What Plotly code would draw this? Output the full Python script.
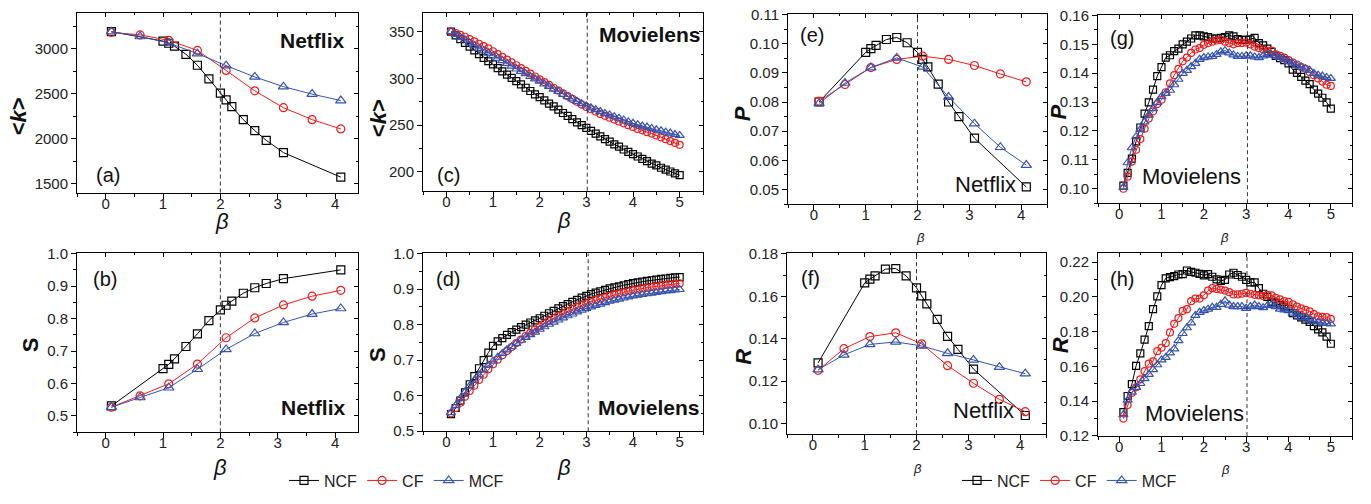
import plotly.graph_objects as go

W, H = 1371, 504

# ---------------- data ----------------
beta_nf_ncf = [0.1, 1.0, 1.1, 1.2, 1.4, 1.6, 1.8, 2.0, 2.1, 2.2, 2.4, 2.6, 2.8, 3.1, 4.1]
beta_nf = [0.1, 0.6, 1.1, 1.6, 2.1, 2.6, 3.1, 3.6, 4.1]
beta_ml = [0.1, 0.2, 0.3, 0.4, 0.5, 0.6, 0.7, 0.8, 0.9, 1.0,
           1.1, 1.2, 1.3, 1.4, 1.5, 1.6, 1.7, 1.8, 1.9, 2.0,
           2.1, 2.2, 2.3, 2.4, 2.5, 2.6, 2.7, 2.8, 2.9, 3.0,
           3.1, 3.2, 3.3, 3.4, 3.5, 3.6, 3.7, 3.8, 3.9, 4.0,
           4.1, 4.2, 4.3, 4.4, 4.5, 4.6, 4.7, 4.8, 4.9, 5.0]

# (a) Netflix <k>
k_nf_ncf = [3191, 3086, 3062, 3029, 2939, 2817, 2665, 2507, 2432, 2356, 2212, 2090, 1982, 1845, 1572]
k_nf_cf = [3183, 3155, 3094, 2982, 2759, 2532, 2345, 2212, 2108]
k_nf_mcf = [3191, 3137, 3065, 2946, 2813, 2687, 2579, 2496, 2424]

# (b) Netflix S
s_nf_ncf = [0.531, 0.646, 0.659, 0.676, 0.714, 0.753, 0.794, 0.827, 0.841, 0.854, 0.878, 0.895, 0.908, 0.923, 0.950]
s_nf_cf = [0.527, 0.562, 0.599, 0.660, 0.741, 0.802, 0.842, 0.869, 0.887]
s_nf_mcf = [0.527, 0.557, 0.587, 0.644, 0.705, 0.754, 0.788, 0.814, 0.831]

# (e) Netflix P
p_nf_ncf = [0.0800, 0.0970, 0.0983, 0.0994, 0.1014, 0.1021, 0.1003, 0.0970, 0.0946, 0.0920, 0.0861, 0.0800, 0.0750, 0.0676, 0.0509]
p_nf_cf = [0.0803, 0.0860, 0.0918, 0.0946, 0.0957, 0.0946, 0.0925, 0.0896, 0.0869]
p_nf_mcf = [0.0795, 0.0865, 0.0918, 0.0951, 0.0920, 0.0817, 0.0726, 0.0645, 0.0584]

# (f) Netflix R
r_nf_ncf = [0.1286, 0.1663, 0.1681, 0.1696, 0.1728, 0.1731, 0.1696, 0.1640, 0.1602, 0.1564, 0.1491, 0.1411, 0.1350, 0.1257, 0.1038]
r_nf_cf = [0.1251, 0.1353, 0.1410, 0.1428, 0.1376, 0.1273, 0.1190, 0.1114, 0.1056]
r_nf_mcf = [0.1254, 0.1324, 0.1373, 0.1385, 0.1366, 0.1331, 0.1300, 0.1266, 0.1235]

# (c) Movielens <k>
k_ml_ncf = [350, 346, 342, 338, 334, 330, 326, 322, 318.5, 315,
            311, 307.5, 304, 300.5, 297, 293.5, 290, 286.5, 283, 280,
            276.5, 273, 270, 266.5, 263, 260, 256.5, 253, 250, 247,
            244, 241, 238, 235, 232.5, 229.5, 227, 224, 221.5, 219,
            216.5, 214, 211.5, 209, 207, 204.5, 202.5, 200.5, 198.5, 196.5]
k_ml_cf = [350, 348.5, 346.5, 344.5, 342, 339.5, 337, 334.5, 332, 329,
           326, 323, 320, 317, 314, 311, 308, 305, 302, 299,
           296, 293, 290, 287, 284, 281, 278, 275, 272, 269.5,
           267, 264.5, 262, 260, 258, 256, 254, 252, 250, 248,
           246, 244.5, 242.5, 241, 239, 237, 235, 233, 231, 229]
k_ml_mcf = [350, 347, 344, 341, 338, 335, 332, 329.5, 327, 324,
            321.5, 319, 316, 313, 310, 307.5, 305, 302, 299.5, 297,
            294, 291.5, 288.5, 286, 283, 280.5, 278, 275.5, 273, 270.5,
            268.5, 266.5, 264.5, 262.5, 261, 259, 257.5, 255.5, 253.5, 252,
            250.5, 249, 248, 246.5, 245, 244, 242.5, 241.5, 240, 239]

# (d) Movielens S
s_ml_ncf = [0.548, 0.565, 0.586, 0.609, 0.632, 0.655, 0.677, 0.700, 0.721, 0.740,
            0.753, 0.762, 0.771, 0.779, 0.786, 0.793, 0.800, 0.806, 0.812, 0.818,
            0.825, 0.832, 0.839, 0.846, 0.852, 0.858, 0.864, 0.870, 0.876, 0.881,
            0.886, 0.890, 0.894, 0.898, 0.902, 0.905, 0.908, 0.911, 0.914, 0.917,
            0.919, 0.921, 0.923, 0.925, 0.927, 0.929, 0.930, 0.932, 0.933, 0.934]
s_ml_cf = [0.550, 0.565, 0.580, 0.597, 0.613, 0.628, 0.644, 0.659, 0.674, 0.688,
           0.701, 0.714, 0.726, 0.737, 0.748, 0.758, 0.768, 0.777, 0.786, 0.795,
           0.803, 0.811, 0.818, 0.825, 0.832, 0.838, 0.844, 0.850, 0.855, 0.860,
           0.865, 0.869, 0.873, 0.877, 0.881, 0.885, 0.888, 0.891, 0.894, 0.897,
           0.899, 0.902, 0.904, 0.906, 0.908, 0.910, 0.912, 0.913, 0.915, 0.916]
s_ml_mcf = [0.552, 0.572, 0.592, 0.610, 0.627, 0.643, 0.658, 0.672, 0.685, 0.697,
            0.708, 0.719, 0.729, 0.738, 0.747, 0.756, 0.764, 0.772, 0.779, 0.787,
            0.794, 0.801, 0.807, 0.813, 0.819, 0.825, 0.830, 0.836, 0.841, 0.846,
            0.850, 0.854, 0.858, 0.862, 0.866, 0.869, 0.872, 0.875, 0.878, 0.881,
            0.883, 0.885, 0.887, 0.889, 0.891, 0.893, 0.895, 0.896, 0.898, 0.899]

# (g) Movielens P
p_ml_ncf = [0.1011, 0.1055, 0.1104, 0.1164, 0.1212, 0.1260, 0.1299, 0.1343, 0.1390, 0.1421,
            0.1454, 0.1462, 0.1476, 0.1485, 0.1500, 0.1509, 0.1520, 0.1531, 0.1531, 0.1527,
            0.1525, 0.1520, 0.1520, 0.1522, 0.1525, 0.1531, 0.1527, 0.1518, 0.1515, 0.1515,
            0.1517, 0.1522, 0.1504, 0.1496, 0.1485, 0.1474, 0.1460, 0.1452, 0.1445, 0.1434,
            0.1412, 0.1401, 0.1387, 0.1374, 0.1362, 0.1343, 0.1329, 0.1315, 0.1299, 0.1277]
p_ml_cf = [0.1000, 0.1042, 0.1094, 0.1135, 0.1172, 0.1208, 0.1243, 0.1268, 0.1293, 0.1308,
           0.1334, 0.1365, 0.1393, 0.1415, 0.1441, 0.1454, 0.1470, 0.1482, 0.1487, 0.1498,
           0.1504, 0.1509, 0.1513, 0.1515, 0.1509, 0.1504, 0.1500, 0.1504, 0.1504, 0.1506,
           0.1500, 0.1492, 0.1487, 0.1482, 0.1476, 0.1478, 0.1465, 0.1460, 0.1454, 0.1445,
           0.1437, 0.1430, 0.1421, 0.1415, 0.1404, 0.1393, 0.1382, 0.1371, 0.1360, 0.1356]
p_ml_mcf = [0.1005, 0.1090, 0.1142, 0.1180, 0.1205, 0.1231, 0.1255, 0.1277, 0.1299, 0.1319,
            0.1330, 0.1341, 0.1360, 0.1379, 0.1399, 0.1410, 0.1423, 0.1434, 0.1448, 0.1454,
            0.1456, 0.1458, 0.1465, 0.1474, 0.1478, 0.1470, 0.1463, 0.1458, 0.1458, 0.1460,
            0.1460, 0.1456, 0.1454, 0.1460, 0.1465, 0.1462, 0.1460, 0.1454, 0.1448, 0.1441,
            0.1434, 0.1426, 0.1421, 0.1415, 0.1410, 0.1399, 0.1393, 0.1390, 0.1385, 0.1382]

# (h) Movielens R
r_ml_ncf = [0.1336, 0.1429, 0.1497, 0.1603, 0.1674, 0.1754, 0.1832, 0.1929, 0.2003, 0.2068,
            0.2107, 0.2114, 0.2120, 0.2129, 0.2131, 0.2152, 0.2144, 0.2139, 0.2133, 0.2124,
            0.2131, 0.2116, 0.2101, 0.2092, 0.2098, 0.2129, 0.2139, 0.2126, 0.2116, 0.2098,
            0.2083, 0.2083, 0.2050, 0.2018, 0.2000, 0.1971, 0.1962, 0.1953, 0.1944, 0.1930,
            0.1906, 0.1893, 0.1882, 0.1869, 0.1856, 0.1832, 0.1813, 0.1795, 0.1771, 0.1730]
r_ml_cf = [0.1299, 0.1377, 0.1447, 0.1479, 0.1525, 0.1572, 0.1615, 0.1628, 0.1687, 0.1707,
           0.1733, 0.1795, 0.1845, 0.1878, 0.1919, 0.1929, 0.1975, 0.1990, 0.1990, 0.2009,
           0.2036, 0.2050, 0.2046, 0.2042, 0.2036, 0.2027, 0.2014, 0.2014, 0.2018, 0.2023,
           0.2018, 0.2012, 0.2009, 0.2005, 0.2012, 0.2009, 0.1994, 0.1985, 0.1975, 0.1971,
           0.1957, 0.1944, 0.1934, 0.1925, 0.1916, 0.1901, 0.1888, 0.1885, 0.1883, 0.1873]
r_ml_mcf = [0.1321, 0.1405, 0.1451, 0.1479, 0.1501, 0.1529, 0.1553, 0.1581, 0.1609, 0.1637,
            0.1651, 0.1677, 0.1701, 0.1748, 0.1789, 0.1822, 0.1850, 0.1893, 0.1911, 0.1921,
            0.1929, 0.1940, 0.1940, 0.1957, 0.1977, 0.1953, 0.1944, 0.1944, 0.1944, 0.1934,
            0.1944, 0.1953, 0.1944, 0.1938, 0.1949, 0.1957, 0.1944, 0.1929, 0.1925, 0.1920,
            0.1906, 0.1897, 0.1882, 0.1879, 0.1869, 0.1860, 0.1856, 0.1850, 0.1847, 0.1845]

series_names = ["NCF", "CF", "MCF"]
colors = ["#000000", "#f01c1c", "#3553b0"]
symbols = ["square-open", "circle-open", "triangle-up-open"]

FONT = "Liberation Sans, Arial, sans-serif"


def fx(px):
    return px / W


def fy(py):
    return 1 - py / H


panels = [
    dict(i=1, xp=(77, 358), yp=(4, 190), xr=[-0.5, 4.4], yr=[1400, 3400], t0=1500, dt=500, mn=250, fmt="d",
         xs=[beta_nf_ncf, beta_nf, beta_nf], ys=[k_nf_ncf, k_nf_cf, k_nf_mcf], vx=2.0, ms=8, leg="legend"),
    dict(i=2, xp=(423, 703), yp=(4, 188), xr=[-0.5, 5.5], yr=[180, 370], t0=200, dt=50, mn=25, fmt="d",
         xs=[beta_ml] * 3, ys=[k_ml_ncf, k_ml_cf, k_ml_mcf], vx=3.02, ms=7, leg=None),
    dict(i=3, xp=(788, 1047), yp=(5, 202), xr=[-0.5, 4.5], yr=[0.045, 0.1102], t0=0.05, dt=0.01, mn=0.005, fmt=".2f",
         xs=[beta_nf_ncf, beta_nf, beta_nf], ys=[p_nf_ncf, p_nf_cf, p_nf_mcf], vx=2.0, ms=8, leg="legend2"),
    dict(i=4, xp=(1098, 1352), yp=(6, 201), xr=[-0.5, 5.5], yr=[0.095, 0.1602], t0=0.10, dt=0.01, mn=0.005, fmt=".2f",
         xs=[beta_ml] * 3, ys=[p_ml_ncf, p_ml_cf, p_ml_mcf], vx=3.03, ms=7, leg=None),
    dict(i=5, xp=(77, 358), yp=(253, 438), xr=[-0.5, 4.4], yr=[0.45, 1.0005], t0=0.5, dt=0.1, mn=0.05, fmt=".1f",
         xs=[beta_nf_ncf, beta_nf, beta_nf], ys=[s_nf_ncf, s_nf_cf, s_nf_mcf], vx=2.0, ms=8, leg=None),
    dict(i=6, xp=(423, 703), yp=(253, 437), xr=[-0.5, 5.5], yr=[0.4995, 1.0005], t0=0.5, dt=0.1, mn=0.05, fmt=".1f",
         xs=[beta_ml] * 3, ys=[s_ml_ncf, s_ml_cf, s_ml_mcf], vx=3.04, ms=7, leg=None),
    dict(i=7, xp=(787, 1046), yp=(253, 440), xr=[-0.5, 4.5], yr=[0.095, 0.1802], t0=0.10, dt=0.02, mn=0.01, fmt=".2f",
         xs=[beta_nf_ncf, beta_nf, beta_nf], ys=[r_nf_ncf, r_nf_cf, r_nf_mcf], vx=2.0, ms=8, leg=None),
    dict(i=8, xp=(1098, 1352), yp=(253, 442), xr=[-0.5, 5.5], yr=[0.1198, 0.225], t0=0.12, dt=0.02, mn=0.01, fmt=".2f",
         xs=[beta_ml] * 3, ys=[r_ml_ncf, r_ml_cf, r_ml_mcf], vx=3.02, ms=7, leg=None),
]

fig = go.Figure()
layout = dict(
    width=W, height=H, margin=dict(l=0, r=0, t=0, b=0),
    paper_bgcolor="white", plot_bgcolor="white",
    font=dict(family=FONT, size=15, color="#222"),
    showlegend=True,
)
shapes = []
NP = len(panels)
TICKFONT = dict(family=FONT, size=15, color="#222")
HIDDEN = dict(showline=False, showgrid=False, zeroline=False)

for p in panels:
    i = p["i"]
    sx = "" if i == 1 else str(i)
    xa, ya = "x" + sx, "y" + sx
    for k in range(3):
        tr = dict(
            x=p["xs"][k], y=p["ys"][k], xaxis=xa, yaxis=ya, mode="lines+markers",
            name=series_names[k],
            line=dict(color=colors[k], width=1),
            marker=dict(symbol=symbols[k], size=p["ms"] + (1 if k == 2 else 0),
                        color=colors[k], line=dict(width=1.2, color=colors[k])),
            showlegend=p["leg"] is not None,
        )
        if p["leg"]:
            tr["legend"] = p["leg"]
        fig.add_trace(go.Scatter(**tr))
    xdom = [fx(p["xp"][0]), fx(p["xp"][1])]
    ydom = [fy(p["yp"][1]), fy(p["yp"][0])]
    layout["xaxis" + sx] = dict(domain=xdom, range=p["xr"], anchor=ya, tick0=0, dtick=1,
                                showline=True, linecolor="black", linewidth=1, mirror=True,
                                ticks="outside", ticklen=5, tickcolor="black", showticklabels=False,
                                showgrid=False, zeroline=False,
                                minor=dict(dtick=0.5, ticks="outside", ticklen=3, tickcolor="black"))
    layout["yaxis" + sx] = dict(domain=ydom, range=p["yr"], anchor=xa, tick0=p["t0"], dtick=p["dt"],
                                tickformat=p["fmt"], tickfont=TICKFONT,
                                showline=True, linecolor="black", linewidth=1, mirror=True,
                                ticks="outside", ticklen=5, tickcolor="black",
                                showgrid=False, zeroline=False,
                                minor=dict(dtick=p["mn"], tick0=p["t0"], ticks="outside", ticklen=3,
                                           tickcolor="black"))
    jl = i + NP
    layout["xaxis" + str(jl)] = dict(domain=xdom, range=p["xr"], anchor=ya, overlaying=xa, side="bottom",
                                     tick0=0, dtick=1, ticks="", showticklabels=True, tickfont=TICKFONT,
                                     **HIDDEN)
    jt = i + 2 * NP
    layout["xaxis" + str(jt)] = dict(domain=xdom, range=p["xr"], anchor=ya, overlaying=xa, side="top",
                                     tick0=0, dtick=1, ticks="inside", ticklen=4, tickcolor="black",
                                     showticklabels=False, **HIDDEN,
                                     minor=dict(dtick=0.5, ticks="inside", ticklen=2, tickcolor="black"))
    layout["yaxis" + str(jt)] = dict(domain=ydom, range=p["yr"], anchor=xa, overlaying=ya, side="right",
                                     tick0=p["t0"], dtick=p["dt"], ticks="inside", ticklen=4, tickcolor="black",
                                     showticklabels=False, **HIDDEN,
                                     minor=dict(dtick=p["mn"], tick0=p["t0"], ticks="inside", ticklen=2,
                                                tickcolor="black"))
    fig.add_trace(go.Scatter(x=[None], y=[None], xaxis="x" + str(jl), yaxis=ya,
                             showlegend=False, hoverinfo="skip"))
    fig.add_trace(go.Scatter(x=[None], y=[None], xaxis="x" + str(jt), yaxis="y" + str(jt),
                             showlegend=False, hoverinfo="skip"))
    shapes.append(dict(type="line", xref=xa, yref=ya + " domain", x0=p["vx"], x1=p["vx"], y0=0, y1=1,
                       line=dict(color="#333", width=1, dash="4px,3px")))

layout["shapes"] = shapes
layout["legend"] = dict(orientation="h", x=fx(284), y=fy(488), xanchor="left", yanchor="middle",
                        font=dict(family=FONT, size=16, color="#222"), bgcolor="rgba(0,0,0,0)",
                        itemwidth=30, tracegroupgap=0)
layout["legend2"] = dict(orientation="h", x=fx(957), y=fy(488), xanchor="left", yanchor="middle",
                         font=dict(family=FONT, size=16, color="#222"), bgcolor="rgba(0,0,0,0)",
                         itemwidth=30, tracegroupgap=0)

ann = []


def text(px, py, s, size, bold=False, italic=False, angle=0):
    t = s
    if italic:
        t = "<i>" + t + "</i>"
    if bold:
        t = "<b>" + t + "</b>"
    ann.append(dict(x=fx(px), y=fy(py), xref="paper", yref="paper", text=t, showarrow=False,
                    xanchor="center", yanchor="middle", textangle=angle,
                    font=dict(family=FONT, size=size, color="#111")))


for (px, py, s) in [(108, 172, "(a)"), (448, 172, "(c)"), (812, 27, "(e)"), (1122, 30, "(g)"),
                    (105, 279, "(b)"), (448, 279, "(d)"), (810, 278, "(f)"), (1122, 279, "(h)")]:
    text(px, py, s, 20)

text(312, 33, "Netflix", 21, bold=True)
text(650, 26, "Movielens", 21, bold=True)
text(313, 412, "Netflix", 21, bold=True)
text(649, 412, "Movielens", 21, bold=True)
text(985, 182, "Netflix", 22)
text(983, 416, "Netflix", 22)
text(1191, 173, "Movielens", 22)
text(1194, 419, "Movielens", 22)

text(18, 111, "&lt;<i>k</i>&gt;", 22, bold=True, angle=-90)
text(30, 348, "S", 22, bold=True, angle=-90)
text(378, 113, "&lt;<i>k</i>&gt;", 22, bold=True, angle=-90)
text(378, 358, "S", 22, bold=True, angle=-90)
text(742, 109, "P", 22, bold=True, italic=True, angle=-90)
text(744, 360, "R", 22, bold=True, italic=True, angle=-90)
text(1058, 107, "P", 22, bold=True, italic=True, angle=-90)
text(1060, 348, "R", 22, bold=True, italic=True, angle=-90)

text(222, 220, "β", 22, italic=True)
text(564, 219, "β", 22, italic=True)
text(220, 474, "β", 22, italic=True)
text(564, 474, "β", 22, italic=True)
text(920, 236, "β", 13, italic=True)
text(1224, 236, "β", 13, italic=True)
text(917, 476, "β", 13, italic=True)
text(1225, 477, "β", 13, italic=True)

layout["annotations"] = ann
fig.update_layout(**layout)
fig.write_html("out.html")
